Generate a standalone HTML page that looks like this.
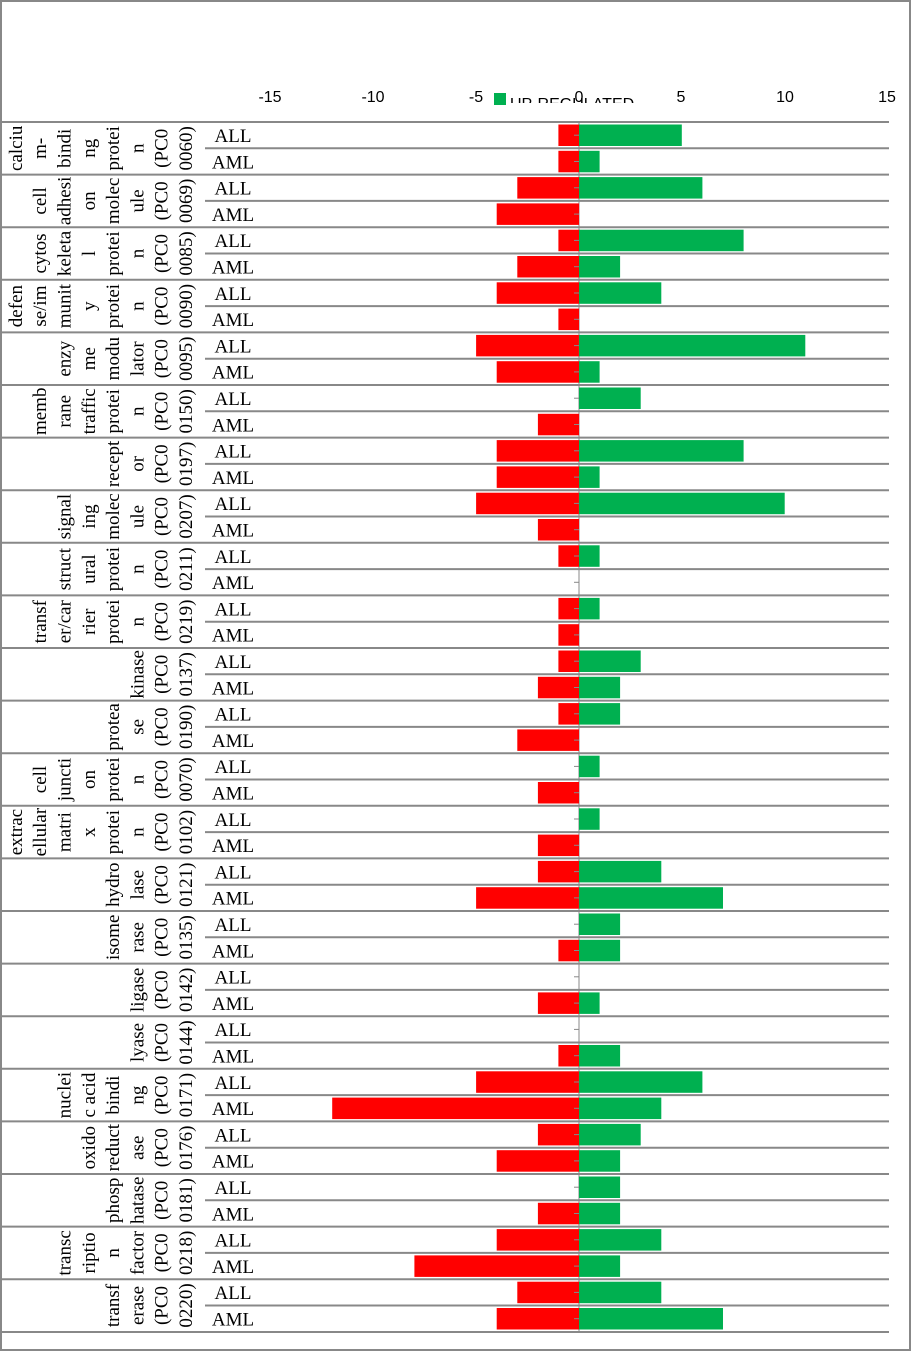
<!DOCTYPE html>
<html><head><meta charset="utf-8"><style>
html,body{margin:0;padding:0;background:#fff;}
svg{display:block;}
.t{font-family:"Liberation Serif",serif;font-size:19px;fill:#000;}
.a{font-family:"Liberation Sans",sans-serif;font-size:16px;fill:#000;}
</style></head><body>
<svg width="912" height="1351" viewBox="0 0 912 1351" xmlns="http://www.w3.org/2000/svg">
<rect x="1" y="1" width="909" height="1349" fill="#fff" stroke="#888" stroke-width="2"/>
<g class="a" text-anchor="middle">
<text x="270" y="102">-15</text><text x="373" y="102">-10</text><text x="476" y="102">-5</text>
<text x="785" y="102">10</text><text x="887" y="102">15</text><text x="681" y="102">5</text>
</g>
<clipPath id="lg"><rect x="500" y="80" width="160" height="23"/></clipPath>
<rect x="494" y="93" width="12" height="12" fill="#00b050"/>
<text class="a" x="510" y="109" clip-path="url(#lg)">UP-REGULATED</text>
<text class="a" x="579" y="102" text-anchor="middle">0</text>
<line x1="579" y1="122" x2="579" y2="1332" stroke="#888" stroke-width="1"/>
<g id="cats"></g>
</svg>
<script>
var cats=[
[["calciu","m-","bindi","ng","protei","n","(PC0","0060)"],[-1,5,-1,1]],
[["cell","adhesi","on","molec","ule","(PC0","0069)"],[-3,6,-4,0]],
[["cytos","keleta","l","protei","n","(PC0","0085)"],[-1,8,-3,2]],
[["defen","se/im","munit","y","protei","n","(PC0","0090)"],[-4,4,-1,0]],
[["enzy","me","modu","lator","(PC0","0095)"],[-5,11,-4,1]],
[["memb","rane","traffic","protei","n","(PC0","0150)"],[0,3,-2,0]],
[["recept","or","(PC0","0197)"],[-4,8,-4,1]],
[["signal","ing","molec","ule","(PC0","0207)"],[-5,10,-2,0]],
[["struct","ural","protei","n","(PC0","0211)"],[-1,1,0,0]],
[["transf","er/car","rier","protei","n","(PC0","0219)"],[-1,1,-1,0]],
[["kinase","(PC0","0137)"],[-1,3,-2,2]],
[["protea","se","(PC0","0190)"],[-1,2,-3,0]],
[["cell","juncti","on","protei","n","(PC0","0070)"],[0,1,-2,0]],
[["extrac","ellular","matri","x","protei","n","(PC0","0102)"],[0,1,-2,0]],
[["hydro","lase","(PC0","0121)"],[-2,4,-5,7]],
[["isome","rase","(PC0","0135)"],[0,2,-1,2]],
[["ligase","(PC0","0142)"],[0,0,-2,1]],
[["lyase","(PC0","0144)"],[0,0,-1,2]],
[["nuclei","c acid","bindi","ng","(PC0","0171)"],[-5,6,-12,4]],
[["oxido","reduct","ase","(PC0","0176)"],[-2,3,-4,2]],
[["phosp","hatase","(PC0","0181)"],[0,2,-2,2]],
[["transc","riptio","n","factor","(PC0","0218)"],[-4,4,-8,2]],
[["transf","erase","(PC0","0220)"],[-3,4,-4,7]]
];
var h='',Z=579,U=20.57,H=52.6;
cats.forEach(function(c,i){
 var top=122+i*H,L=c[0],d=c[1],n=L.length;
 h+='<g transform="translate(0,'+top.toFixed(1)+')">';
 L.forEach(function(s,j){var cx=185-(n-1-j)*24.3+7;
  h+='<text class="t" text-anchor="middle" transform="translate('+cx.toFixed(1)+',26.3) rotate(-90)">'+s+'</text>';});
 [[d[0],d[1],2.5],[d[2],d[3],28.8]].forEach(function(r){
  if(r[0])h+='<rect x="'+(Z+r[0]*U).toFixed(1)+'" y="'+r[2]+'" width="'+(-r[0]*U).toFixed(1)+'" height="21.5" fill="#ff0000"/>';
  if(r[1])h+='<rect x="'+Z+'" y="'+r[2]+'" width="'+(r[1]*U).toFixed(1)+'" height="21.5" fill="#00b050"/>';
  h+='<line x1="574" y1="'+(r[2]+10.7)+'" x2="579" y2="'+(r[2]+10.7)+'" stroke="#888"/>';
 });
 h+='<text class="t" x="233" y="20" text-anchor="middle">ALL</text><text class="t" x="233" y="46.3" text-anchor="middle">AML</text>';
 h+='<line x1="2" y1="0" x2="889" y2="0" stroke="#888" stroke-width="2"/>';
 h+='<line x1="205" y1="26.3" x2="889" y2="26.3" stroke="#888" stroke-width="2"/>';
 h+='</g>';
});
h+='<line x1="2" y1="1332" x2="889" y2="1332" stroke="#888" stroke-width="2"/>';
document.getElementById('cats').innerHTML=h;
</script>
</body></html>
